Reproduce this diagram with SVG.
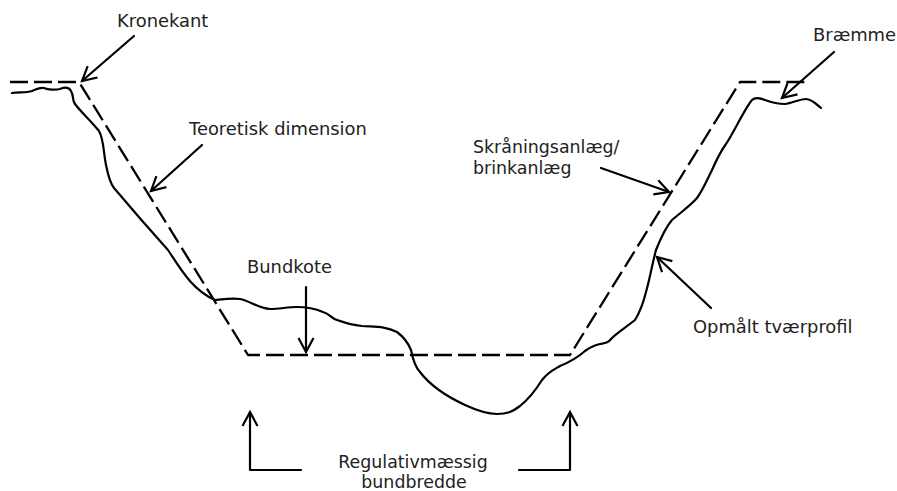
<svg xmlns="http://www.w3.org/2000/svg" width="897" height="491" viewBox="0 0 897 491">
<style>
text{font-family:"DejaVu Sans",sans-serif;font-size:17.9px;fill:#222}
.s{font-size:17.4px}
.l{fill:none;stroke:#000;stroke-linecap:round;stroke-linejoin:round}
.d{stroke-width:2.3;stroke-dasharray:18 6;stroke-linecap:butt}
.p{stroke-width:2.2}
.a{stroke-width:2.2}
</style>
<defs>
<marker id="h" markerUnits="userSpaceOnUse" markerWidth="20" markerHeight="20" refX="15" refY="10" orient="auto">
<path d="M1 2.5 L15 10 L1 17.5" fill="none" stroke="#000" stroke-width="2.2"/>
</marker>
</defs>
<rect width="897" height="491" fill="#fff"/>
<g id="profile">
<path class="l d" d="M10 82H79L248 355H570L740 82H807"/>
<path class="l p" d="M12 93C20 92 26 93 32 91C37 89 40 87 44 88C48 90 56 90 60 89C65 87 69 87 71 91C74 96 72 100 75 104C80 111 91 121 99 131C104 140 103 150 106 165C108 175 110 183 114 188C130 207 150 230 168 250C180 268 192 290 215 300C225 299 232 298 240 299C250 301 258 308 270 309C280 309 287 307 297 307C305 307 316 309 323 312C330 314 331 318 337 320C345 323 352 325 362 326C375 327 385 326 397 332C405 338 409 345 411 350C413 360 416 368 420 372C432 388 450 398 465 405C478 411 488 414 497 414C507 414 512 412 520 406C530 398 537 388 542 380C548 372 553 370 560 366C570 362 577 358 585 351C592 346 595 345 600 344C606 343 608 343 612 338C618 332 625 328 635 320C640 312 644 300 646 292C650 278 652 265 656 250C660 240 665 228 672 220C680 213 690 206 697 198C703 190 707 180 712 170C716 161 720 152 726 144C734 132 745 108 752 100C755 97 760 98 765 100C773 103 778 104 785 104C792 103 800 99 806 99C812 99 816 104 821 108"/>
</g>
<g id="connectors">
<path class="l a" d="M134 36L82 81" marker-end="url(#h)"/>
<path class="l a" d="M202 145L151 191" marker-end="url(#h)"/>
<path class="l a" d="M306 287V352" marker-end="url(#h)"/>
<path class="l a" d="M301 470H250V412" marker-end="url(#h)"/>
<path class="l a" d="M519 470H570V412" marker-end="url(#h)"/>
<path class="l a" d="M601 168L669 192" marker-end="url(#h)"/>
<path class="l a" d="M711 308L657 257" marker-end="url(#h)"/>
<path class="l a" d="M834 52L782 98" marker-end="url(#h)"/>
</g>
<g id="kronekant"><text x="117" y="27">Kronekant</text></g>
<g id="teoretisk"><text x="189" y="135">Teoretisk dimension</text></g>
<g id="skraaning"><text class="s" x="473" y="153">Skråningsanlæg/</text><text class="s" x="473" y="174">brinkanlæg</text></g>
<g id="bundkote"><text x="247" y="273">Bundkote</text></g>
<g id="opmaalt"><text x="693" y="333">Opmålt tværprofil</text></g>
<g id="braemme"><text x="813" y="41">Bræmme</text></g>
<g id="bredde"><text class="s" x="413" y="468" text-anchor="middle">Regulativmæssig</text><text class="s" x="414" y="488" text-anchor="middle">bundbredde</text></g>
</svg>
